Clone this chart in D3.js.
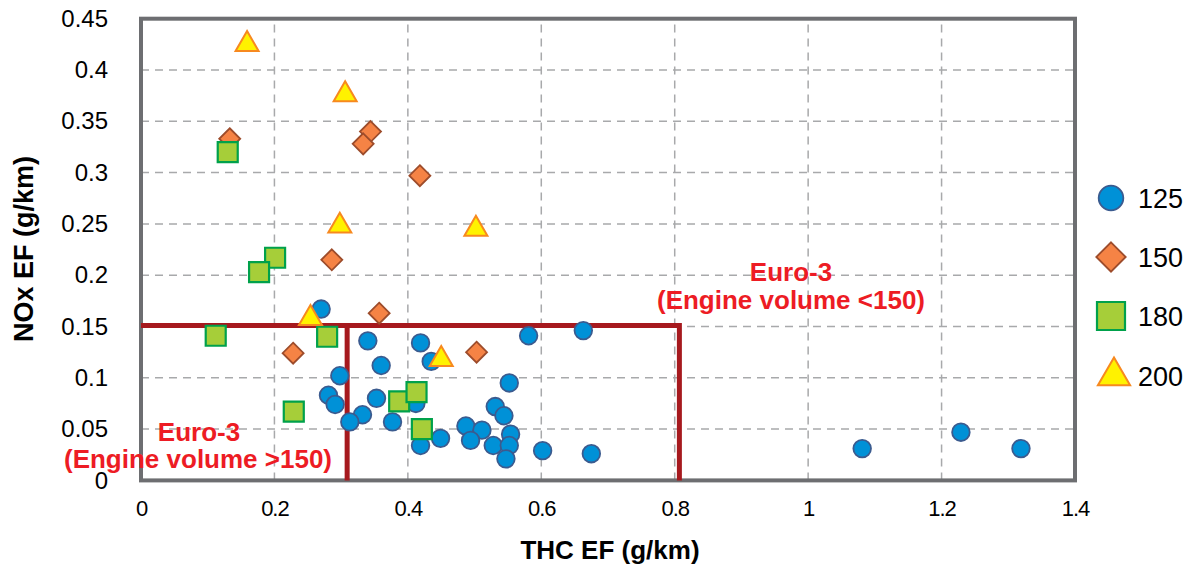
<!DOCTYPE html>
<html>
<head>
<meta charset="utf-8">
<script src="https://cdn.jsdelivr.net/npm/d3@7"></script>
<style>
html,body{margin:0;padding:0;background:#fff;}
svg{display:block;font-family:"Liberation Sans",Arial,sans-serif;}
</style>
</head>
<body>
<svg id="chart" width="1189" height="567"></svg>
<script>
// ---- data ----
const xTicks = [0, 0.2, 0.4, 0.6, 0.8, 1, 1.2, 1.4];
const yTicks = [0, 0.05, 0.1, 0.15, 0.2, 0.25, 0.3, 0.35, 0.4, 0.45];
const seriesNames = ["125", "150", "180", "200"];
const s125 = [[0.270,0.167],[0.340,0.136],[0.419,0.134],[0.435,0.116],[0.360,0.112],[0.298,0.102],
  [0.581,0.141],[0.663,0.146],[0.552,0.095],[0.281,0.083],[0.291,0.074],[0.353,0.080],[0.332,0.064],
  [0.313,0.057],[0.377,0.057],[0.412,0.075],[0.419,0.034],[0.449,0.041],[0.487,0.053],[0.511,0.049],
  [0.494,0.039],[0.531,0.072],[0.544,0.063],[0.554,0.045],[0.528,0.034],[0.552,0.034],[0.547,0.021],
  [0.602,0.029],[0.675,0.026],[1.081,0.031],[1.229,0.047],[1.319,0.031]];
const s150 = [[0.133,0.333],[0.344,0.340],[0.333,0.328],[0.418,0.297],[0.286,0.215],[0.357,0.163],
  [0.228,0.124],[0.503,0.125]];
const s180 = [[0.130,0.320],[0.201,0.217],[0.177,0.203],[0.112,0.141],[0.279,0.140],[0.229,0.067],
  [0.387,0.077],[0.413,0.086],[0.421,0.050]];
const s200 = [[0.159,0.425],[0.306,0.376],[0.298,0.248],[0.502,0.245],[0.254,0.158],[0.450,0.118]];
const limitX1 = 0.309, limitX2 = 0.807, limitY = 0.151;
const xTitle = "THC EF (g/km)", yTitle = "NOx EF (g/km)";

// ---- layout ----
const svg = d3.select("#chart");
const x = d3.scaleLinear().domain([0, 1.4]).range([141, 1075]);
const y = d3.scaleLinear().domain([0, 0.45]).range([480.4, 18.7]);

// grid
svg.append("g").selectAll("line").data(xTicks.slice(1, -1)).join("line")
  .attr("x1", d => x(d)).attr("x2", d => x(d)).attr("y1", y(0)).attr("y2", y(0.45))
  .attr("stroke", "#a8a9ab").attr("stroke-width", 1.5).attr("stroke-dasharray", "8,6");
svg.append("g").selectAll("line").data(yTicks.slice(1, -1)).join("line")
  .attr("y1", d => y(d)).attr("y2", d => y(d)).attr("x1", x(0)).attr("x2", x(1.4))
  .attr("stroke", "#a8a9ab").attr("stroke-width", 1.5).attr("stroke-dasharray", "8,6");

// axes (labels only)
const xAxis = d3.axisBottom(x).tickValues(xTicks).tickSize(0).tickPadding(0).tickFormat(d3.format("~g"));
const gx = svg.append("g").attr("transform", "translate(0,500)").call(xAxis);
gx.select(".domain").remove();
gx.selectAll("text").attr("font-size", 22).attr("fill", "#000").attr("letter-spacing", -1)
  .attr("font-family", "Liberation Sans, Arial, sans-serif").attr("dy", "0.71em");

const yAxis = d3.axisLeft(y).tickValues(yTicks).tickSize(0).tickPadding(0).tickFormat(d3.format("~g"));
const gy = svg.append("g").attr("transform", "translate(108,0)").call(yAxis);
gy.select(".domain").remove();
gy.selectAll("text").attr("font-size", 24).attr("fill", "#000")
  .attr("font-family", "Liberation Sans, Arial, sans-serif");

// frame
svg.append("rect").attr("x", x(0)).attr("y", y(0.45)).attr("width", x(1.4) - x(0)).attr("height", y(0) - y(0.45))
  .attr("fill", "none").attr("stroke", "#6d6e71").attr("stroke-width", 4);

// limit lines
const red = "#a6191e";
const lim = svg.append("g").attr("stroke", red).attr("stroke-width", 5).attr("fill", "none");
lim.append("path").attr("d", `M${x(0)},${y(limitY)}H${x(limitX2)}V${y(0)}`);
lim.append("line").attr("x1", x(limitX1)).attr("x2", x(limitX1)).attr("y1", y(limitY)).attr("y2", y(0));

// annotation texts
const ann = svg.append("g").attr("fill", "#ed1c24").attr("font-weight", "bold").attr("font-size", 26)
  .attr("text-anchor", "middle");
ann.append("text").attr("x", 791).attr("y", 281).text("Euro-3");
ann.append("text").attr("x", 791).attr("y", 309).text("(Engine volume <150)");
ann.append("text").attr("x", 199).attr("y", 441).text("Euro-3");
ann.append("text").attr("x", 198).attr("y", 468).text("(Engine volume >150)");

// markers
const styles = [
  {fill: "#0091d7", stroke: "#3b5b8f", sw: 1.8},
  {fill: "#f58345", stroke: "#9d4c2b", sw: 1.8},
  {fill: "#a6ce39", stroke: "#00a14b", sw: 2.2},
  {fill: "#fff200", stroke: "#f7891f", sw: 2}
];
function shape(i, s) {
  // s = overall size scale
  if (i === 0) { const r = 8.8 * s; return `M${r},0A${r},${r} 0 1,1 ${-r},0A${r},${r} 0 1,1 ${r},0Z`; }
  if (i === 1) { const h = 10.5 * s; return `M0,${-h}L${h},0L0,${h}L${-h},0Z`; }
  if (i === 2) { const h = 10 * s; return `M${-h},${-h}H${h}V${h}H${-h}Z`; }
  const w = 11.5 * s, ht = w * 1.732, top = -ht * 2 / 3, bot = ht / 3;
  return `M0,${top}L${w},${bot}L${-w},${bot}Z`;
}
const allSeries = [s125, s150, s180, s200];
allSeries.forEach((data, i) => {
  svg.append("g").selectAll("path").data(data).join("path")
    .attr("transform", d => `translate(${x(d[0])},${y(d[1])})`)
    .attr("d", shape(i, 1))
    .attr("fill", styles[i].fill).attr("stroke", styles[i].stroke).attr("stroke-width", styles[i].sw);
});

// legend
const legY = [198, 257, 316, 376];
const leg = svg.append("g");
seriesNames.forEach((name, i) => {
  leg.append("path").attr("transform", `translate(${i === 3 ? 1114 : 1111},${legY[i]})`)
    .attr("d", shape(i, 1.4))
    .attr("fill", styles[i].fill).attr("stroke", styles[i].stroke).attr("stroke-width", styles[i].sw);
  leg.append("text").attr("x", 1138).attr("y", legY[i]).attr("dy", "0.36em")
    .attr("font-size", 27).attr("fill", "#000").text(name);
});

// axis titles
svg.append("text").attr("x", 610).attr("y", 559).attr("text-anchor", "middle")
  .attr("font-weight", "bold").attr("font-size", 26).text(xTitle);
svg.append("text").attr("transform", "translate(33,249) rotate(-90)").attr("text-anchor", "middle")
  .attr("font-weight", "bold").attr("font-size", 27).text(yTitle);
</script>
</body>
</html>
